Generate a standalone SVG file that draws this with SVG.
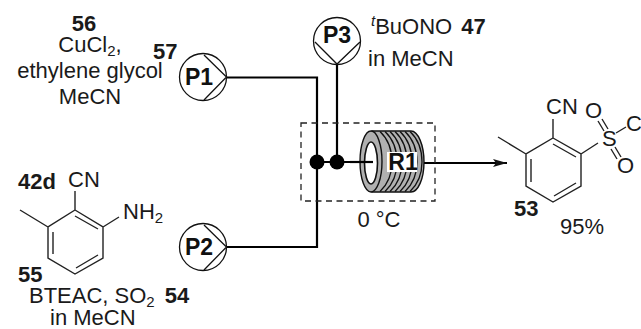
<svg xmlns="http://www.w3.org/2000/svg" width="641" height="329" viewBox="0 0 641 329">
<style>
text{font-family:"Liberation Sans",Arial,sans-serif;font-size:22px;fill:#1a1a1a}
.m{text-anchor:middle}
.b{font-weight:bold}
.p{font-weight:bold;font-size:23px;text-anchor:middle;fill:#111}
.pump{fill:#fff;stroke:#111;stroke-width:1.3}
.wire{fill:none;stroke:#000;stroke-width:2.2}
.bond{fill:none;stroke:#222;stroke-width:1.4}
.coil{fill:none;stroke:#111;stroke-width:1.3}
.sub{font-size:15px}
</style>
<defs>
<marker id="arr" markerUnits="userSpaceOnUse" markerWidth="14" markerHeight="10" refX="14" refY="5" orient="auto"><path d="M0 1L14 5L0 9L3 5Z" fill="#111"/></marker>
</defs>
<rect width="641" height="329" fill="#fff"/>
<g id="connectors">
<path class="wire" d="M227 77.500H317V247H227"/>
<path class="wire" d="M337 64V162"/>
<path class="wire" d="M317 162H373"/>
<path class="wire" d="M424 163H507" marker-end="url(#arr)"/>
<circle cx="317" cy="162" r="7.500" fill="#000"/>
<circle cx="337" cy="162" r="7.500" fill="#000"/>
</g>
<g id="box"><rect x="301" y="123" width="134" height="78" fill="none" stroke="#222" stroke-width="1.3" stroke-dasharray="6 4.500"/></g>
<g id="P1"><circle class="pump" cx="203" cy="77" r="23.500"/><path class="pump" fill="none" d="M204 55L226.500 77L204 100"/><text class="p" x="199" y="85">P1</text></g>
<g id="P2"><circle class="pump" cx="203" cy="247" r="23.500"/><path class="pump" fill="none" d="M204 225L226.500 247L204 270"/><text class="p" x="199" y="255">P2</text></g>
<g id="P3"><circle class="pump" cx="337" cy="41" r="23.500"/><path class="pump" fill="none" d="M315 42L337 64L360 42"/><text class="p" x="337" y="43">P3</text></g>
<g id="R1">
<path d="M372 131H411C418 131 424 145 424 162C424 179 418 192 411 192H372Z" fill="#b0b0b0" stroke="#111" stroke-width="1.400"/>
<path class="coil" d="M380 131.500C389 140 392 151 392 162M385 131.500C394 140 397 151 397 162M390 131.500C399 140 402 151 402 162M395 131.500C404 140 407 151 407 162M400 131.500C409 140 412 151 412 162M405 131.500C414 140 417 151 417 162M410 131.500C419 140 422 151 422 162"/>
<path class="coil" d="M380 191.500C389 183 392 172 392 162M385 191.500C394 183 397 172 397 162M390 191.500C399 183 402 172 402 162M395 191.500C404 183 407 172 407 162M400 191.500C409 183 412 172 412 162M405 191.500C414 183 417 172 417 162M410 191.500C419 183 422 172 422 162"/>
<ellipse cx="371" cy="161.500" rx="11" ry="30.500" fill="#b0b0b0" stroke="#111" stroke-width="1.400"/>
<ellipse cx="371" cy="163" rx="6.500" ry="21" fill="#fff" stroke="#111" stroke-width="1.600"/>
<path class="wire" d="M350 162H373"/>
<rect x="387" y="152" width="30" height="20" fill="#fff"/>
<text class="p" x="403" y="170">R1</text>
</g>
<g id="reagents-top-left">
<text class="b m" x="84" y="31">56</text>
<text class="m" x="90" y="52">CuCl<tspan class="sub" dy="4">2</tspan><tspan dy="-4">,</tspan></text>
<text class="b" x="153" y="59">57</text>
<text class="m" x="90" y="78">ethylene glycol</text>
<text class="m" x="90" y="104">MeCN</text>
</g>
<g id="reagents-p3">
<text x="371" y="34"><tspan font-style="italic" font-size="15" dy="-8">t</tspan><tspan dy="8">BuONO </tspan><tspan class="b" dx="3">47</tspan></text>
<text x="368" y="66">in MeCN</text>
</g>
<text class="m" x="379" y="227">0 °C</text>
<g id="mol-55">
<path class="bond" d="M75 210L103 227V258L75 274L48 258V227ZM48 227L20 210M75 210V191M103 227L119 217M53 232V254M75 216L98 229M76 268L98 255"/>
<text class="b" x="18" y="189">42d</text>
<text x="68" y="187">CN</text>
<text x="123" y="219">NH<tspan class="sub" dy="4">2</tspan></text>
<text class="b" x="18" y="282">55</text>
<text x="29" y="303">BTEAC, SO<tspan class="sub" dy="4">2</tspan><tspan class="b" dy="-4" dx="4"> 54</tspan></text>
<text x="50" y="325">in MeCN</text>
</g>
<g id="mol-53">
<path class="bond" d="M553 138L581 154V186L553 202L526 186V154ZM526 154L498 137M553 138V119M581 154L598 143M531 159V182M553 144L576 157M554 196L576 183M598 121L604 131M602 119L608 129M611 149L617 159M615 147L621 157M616 133L626 127"/>
<text x="546" y="114">CN</text>
<text x="585" y="118">O</text>
<text x="602" y="146">S</text>
<text x="617" y="173">O</text>
<text x="626" y="131">C</text>
<text class="b" x="514" y="216">53</text>
<text x="560" y="234">95%</text>
</g>
</svg>
